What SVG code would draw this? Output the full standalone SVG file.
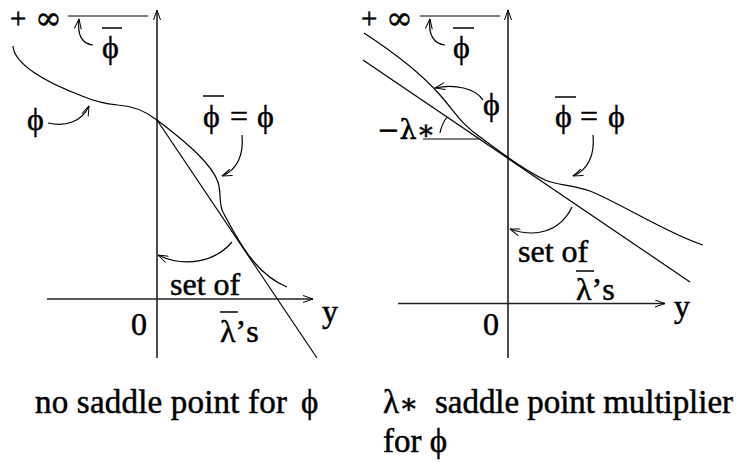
<svg xmlns="http://www.w3.org/2000/svg" width="741" height="469" viewBox="0 0 741 469">
<style>
text{font-family:"Liberation Serif","Times New Roman",serif;font-size:32px;fill:#000;stroke:#000;stroke-width:0.5}
.sym{font-family:"DejaVu Serif","Liberation Serif",serif}
.pl{font-size:29px}
.cap{font-size:33px}
.c{fill:none;stroke:#000;stroke-width:1.2}
.ax{fill:none;stroke:#222;stroke-width:1.6}
.ol{stroke:#000;stroke-width:1.5}
</style>
<defs>
<marker id="ah" viewBox="0 0 10 8" refX="10" refY="4" markerWidth="11" markerHeight="8" markerUnits="userSpaceOnUse" orient="auto"><path d="M0,0.5 L10,4 L0,7.5" fill="none" stroke="#000" stroke-width="1"/></marker>
</defs>
<g id="left-panel">
<g id="left-axes">
<line class="ax" x1="157" y1="358" x2="157" y2="10" marker-end="url(#ah)"/>
<line class="ax" x1="47" y1="299" x2="313" y2="299" marker-end="url(#ah)"/>
<line class="c" x1="68" y1="16" x2="148" y2="16"/>
</g>
<g id="left-curves">
<path class="c" d="M13,46 C14,64 45,82 82,96 C96,102 106,104 118,105 C135,106 148,113 157,120 C190,145 212,165 218,182 C222,196 218,205 224,214 C238,240 255,274 287,287"/>
<line class="c" x1="157" y1="120" x2="317" y2="358"/>
</g>
<g id="left-arrows">
<path class="c" d="M93,45 C82,44 77,35 79,19" marker-end="url(#ah)"/>
<path class="c" d="M48,123 C65,127 82,122 89,106" marker-end="url(#ah)"/>
<path class="c" d="M242,135 C244,155 237,170 222,176" marker-end="url(#ah)"/>
<path class="c" d="M232,242 C215,262 185,268 158,255" marker-end="url(#ah)"/>
</g>
<g id="left-labels">
<text x="10" y="28" class="pl">+</text>
<text x="35" y="29" class="sym">∞</text>
<text x="102" y="58">ϕ</text><line class="ol" x1="102" y1="28" x2="122" y2="28"/>
<text x="27" y="130">ϕ</text>
<text x="203" y="127">ϕ</text><line class="ol" x1="203" y1="96" x2="224" y2="96"/>
<text x="230" y="127">=</text>
<text x="257" y="127">ϕ</text>
<text x="170" y="295">set of</text>
<text x="131" y="335">0</text>
<text x="220" y="342">λ’s</text><line class="ol" x1="220" y1="312" x2="238" y2="312"/>
<text x="322" y="322">y</text>
</g>
</g>
<g id="right-panel">
<g id="right-axes">
<line class="ax" x1="508" y1="358" x2="508" y2="10" marker-end="url(#ah)"/>
<line class="ax" x1="398" y1="303.5" x2="665" y2="303.5" marker-end="url(#ah)"/>
<line class="c" x1="420" y1="16" x2="500" y2="16"/>
</g>
<g id="right-curves">
<path class="c" d="M364,33 C390,50 420,72 440,95 C455,112 462,125 480,137 C495,148 520,168 545,180 C560,186 570,184 590,191 C620,203 670,235 703,245"/>
<line class="c" x1="363" y1="60" x2="690" y2="282"/>
<line class="c" x1="423" y1="139" x2="479" y2="139"/>
<path class="c" d="M440,133 A38,38 0 0 1 447,117"/>
</g>
<g id="right-arrows">
<path class="c" d="M445,45 C434,44 428,35 430,19" marker-end="url(#ah)"/>
<path class="c" d="M483,100 C475,88 455,84 435,88" marker-end="url(#ah)"/>
<path class="c" d="M593,135 C595,155 588,170 573,176" marker-end="url(#ah)"/>
<path class="c" d="M572,207 C560,232 535,238 510,229" marker-end="url(#ah)"/>
</g>
<g id="right-labels">
<text x="361" y="28" class="pl">+</text>
<text x="386" y="29" class="sym">∞</text>
<text x="453" y="58">ϕ</text><line class="ol" x1="453" y1="28" x2="474" y2="28"/>
<text x="483" y="115">ϕ</text>
<text x="377" y="139" class="sym" style="font-size:27px">−λ∗</text>
<text x="555" y="127">ϕ</text><line class="ol" x1="555" y1="97" x2="576" y2="97"/>
<text x="580" y="127">=</text>
<text x="608" y="127">ϕ</text>
<text x="518" y="262">set of</text>
<text x="576" y="300">λ’s</text><line class="ol" x1="576" y1="271" x2="594" y2="271"/>
<text x="483" y="335">0</text>
<text x="674" y="317">y</text>
</g>
</g>
<g id="captions">
<text x="35" y="413" class="cap" textLength="252">no saddle point for</text>
<text x="301" y="413" class="cap">ϕ</text>
<text x="383" y="413" class="cap">λ<tspan class="sym" style="font-size:28px">∗</tspan></text>
<text x="435" y="413" class="cap" textLength="298">saddle point multiplier</text>
<text x="383" y="452" class="cap">for ϕ</text>
</g>
</svg>
